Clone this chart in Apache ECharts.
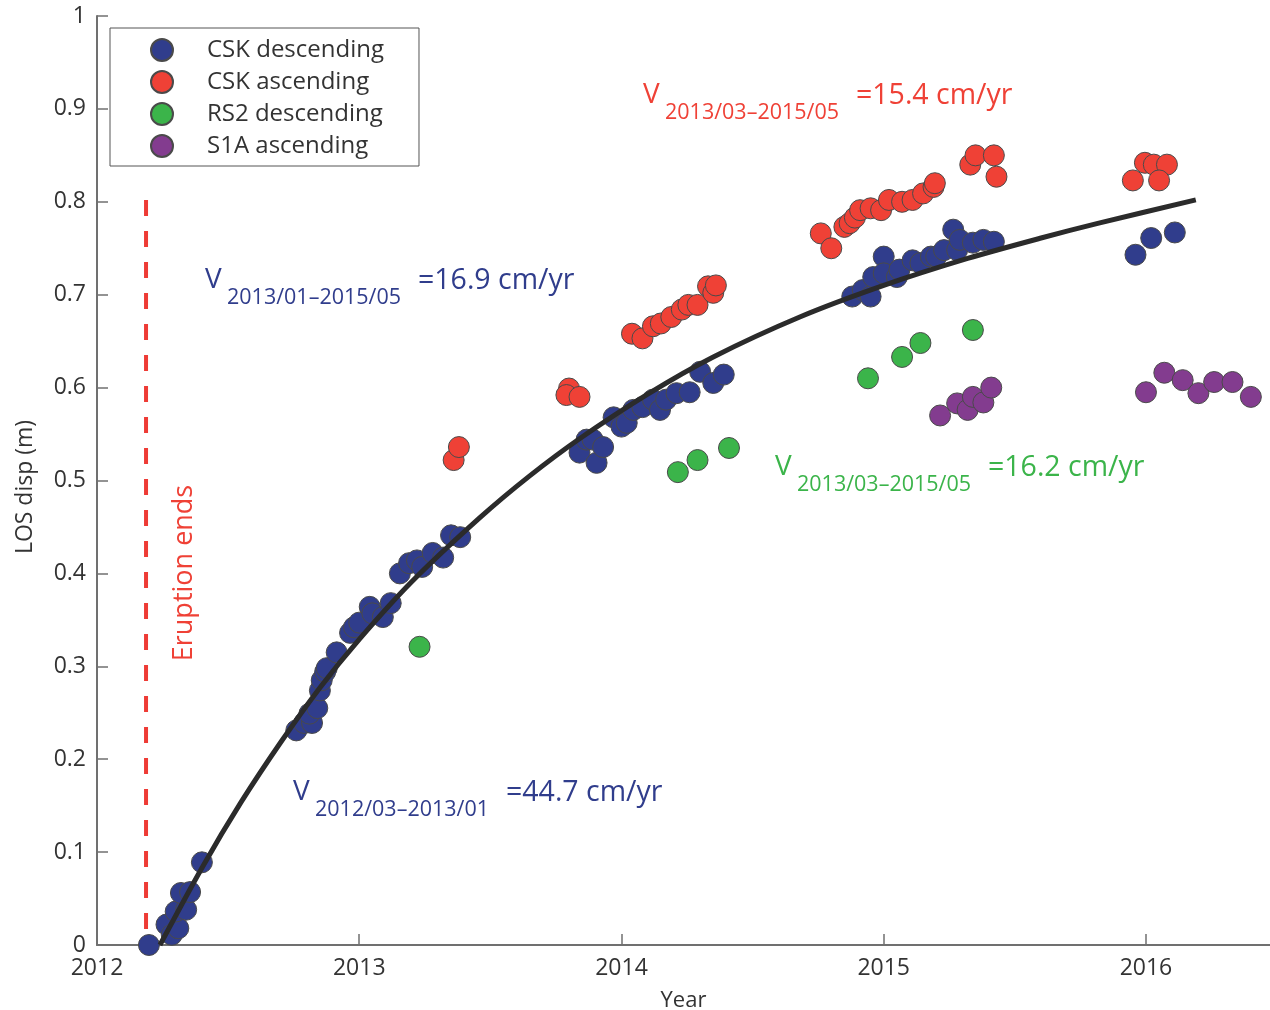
<!DOCTYPE html>
<html>
<head>
<meta charset="utf-8">
<title>LOS displacement</title>
<script src="https://cdn.jsdelivr.net/npm/echarts@6/dist/echarts.min.js"></script>
<style>
  html, body { margin: 0; padding: 0; background: #fff; }
  #chart { width: 1270px; height: 1010px; }
</style>
</head>
<body>
<div id="chart"></div>
<script>
// values: [decimal year, LOS displacement (m)]
const cskDescending = [
  [2012.198, 0.000], [2012.265, 0.022], [2012.285, 0.011], [2012.310, 0.018],
  [2012.300, 0.036], [2012.340, 0.038], [2012.320, 0.056], [2012.355, 0.057],
  [2012.400, 0.089],
  [2012.760, 0.231], [2012.790, 0.239], [2012.820, 0.239], [2012.810, 0.249],
  [2012.840, 0.255], [2012.850, 0.274], [2012.857, 0.285], [2012.870, 0.294],
  [2012.876, 0.298], [2012.914, 0.315], [2012.965, 0.336], [2012.980, 0.342],
  [2013.000, 0.347], [2013.040, 0.364], [2013.050, 0.357], [2013.090, 0.353],
  [2013.120, 0.368], [2013.155, 0.400], [2013.190, 0.411], [2013.220, 0.414],
  [2013.240, 0.407], [2013.280, 0.422], [2013.320, 0.417], [2013.350, 0.441],
  [2013.385, 0.439],
  [2013.840, 0.530], [2013.867, 0.544], [2013.890, 0.544], [2013.905, 0.519],
  [2013.930, 0.536], [2013.970, 0.568], [2014.000, 0.558], [2014.020, 0.562],
  [2014.045, 0.576], [2014.080, 0.579], [2014.120, 0.587], [2014.147, 0.576],
  [2014.170, 0.587], [2014.210, 0.594], [2014.260, 0.595], [2014.300, 0.617],
  [2014.350, 0.605], [2014.390, 0.614],
  [2014.880, 0.698], [2014.920, 0.705], [2014.950, 0.698], [2014.960, 0.719],
  [2015.000, 0.741], [2015.000, 0.723], [2015.050, 0.719], [2015.060, 0.727],
  [2015.110, 0.737], [2015.140, 0.734], [2015.180, 0.741], [2015.200, 0.741],
  [2015.230, 0.748], [2015.265, 0.770], [2015.280, 0.748], [2015.290, 0.759],
  [2015.340, 0.756], [2015.380, 0.759], [2015.420, 0.757],
  [2015.960, 0.743], [2016.020, 0.761], [2016.110, 0.767]
]
const cskAscending = [
  [2013.360, 0.522], [2013.380, 0.536],
  [2013.800, 0.599], [2013.790, 0.592], [2013.840, 0.590],
  [2014.040, 0.658], [2014.080, 0.653], [2014.120, 0.666], [2014.150, 0.669],
  [2014.190, 0.676], [2014.230, 0.684], [2014.255, 0.689], [2014.290, 0.689],
  [2014.330, 0.709], [2014.350, 0.702], [2014.360, 0.710],
  [2014.760, 0.766], [2014.800, 0.750], [2014.850, 0.773], [2014.870, 0.777],
  [2014.890, 0.783], [2014.910, 0.791], [2014.950, 0.793], [2014.990, 0.791],
  [2015.020, 0.802], [2015.070, 0.800], [2015.110, 0.802], [2015.150, 0.809],
  [2015.190, 0.816], [2015.195, 0.820],
  [2015.330, 0.840], [2015.350, 0.850], [2015.420, 0.850], [2015.430, 0.827],
  [2015.950, 0.823], [2015.996, 0.842], [2016.030, 0.840], [2016.080, 0.840],
  [2016.050, 0.823]
]
const rs2Descending = [
  [2013.230, 0.321], [2014.215, 0.509], [2014.290, 0.522], [2014.410, 0.535],
  [2014.940, 0.610], [2015.070, 0.633], [2015.140, 0.648], [2015.340, 0.662]
]
const s1aAscending = [
  [2015.215, 0.570], [2015.280, 0.583], [2015.320, 0.576], [2015.340, 0.590],
  [2015.380, 0.584], [2015.410, 0.600],
  [2016.000, 0.595], [2016.070, 0.616], [2016.140, 0.608], [2016.200, 0.594],
  [2016.260, 0.606], [2016.330, 0.606], [2016.400, 0.590]
]
// model curve
const fitCurve = [
  [2012.24, 0.000], [2012.40, 0.083], [2012.55, 0.154], [2012.70, 0.218],
  [2012.85, 0.277], [2013.00, 0.329], [2013.20, 0.391], [2013.46, 0.460],
  [2013.65, 0.505], [2013.84, 0.545], [2014.10, 0.593], [2014.35, 0.633],
  [2014.68, 0.676], [2015.00, 0.710], [2015.32, 0.739], [2015.60, 0.761],
  [2015.82, 0.777], [2016.19, 0.802]
]
// drawn from the top down so the dash pattern starts at 0.8
const eruptionLine = [[2012.187, 0.802], [2012.187, 0]]
const yearTicks = [2012, 2013, 2014, 2015, 2016]
const seriesNames = ['CSK descending', 'CSK ascending', 'RS2 descending', 'S1A ascending']

const FONT = '"Open Sans", "Noto Sans", sans-serif'
const TEXT_GRAY = '#333'
const AXIS_GRAY = '#707070'
const BLUE = '#303d8c'
const RED = '#ef4136'
const GREEN = '#3bb44a'
const PURPLE = '#833c8f'

const chart = echarts.init(document.getElementById('chart'), null, { renderer: 'canvas' })

function scatter(name, data, color) {
  return {
    name: name,
    type: 'scatter',
    data: data,
    symbol: 'circle',
    symbolSize: 21,
    itemStyle: { color: color, borderColor: '#4a4a4a', borderWidth: 1, opacity: 1 },
    z: 2,
  }
}

// velocity annotation: big "V", subscript period, then the value
function velocityLabel(x, y, period, value, color) {
  return [
    { type: 'text', x: x, y: y, style: { text: 'V', font: '28px ' + FONT, fill: color, verticalAlign: 'middle' } },
    { type: 'text', x: x + 22, y: y + 18, style: { text: period, font: '21.5px ' + FONT, fill: color, verticalAlign: 'middle' } },
    { type: 'text', x: x + 213, y: y + 1, style: { text: value, font: '28.5px ' + FONT, fill: color, verticalAlign: 'middle' } },
  ]
}

const option = {
  animation: false,
  backgroundColor: '#fff',
  // keep the plot box fixed, do not let v6 shrink it to fit the labels
  grid: { left: 97, right: 0, top: 16, bottom: 65, containLabel: false, outerBoundsMode: 'none' },
  xAxis: {
    type: 'value',
    min: 2012,
    max: 2016.473,
    name: 'Year',
    nameLocation: 'middle',
    nameGap: 45,
    nameTextStyle: { fontFamily: FONT, fontSize: 22, color: TEXT_GRAY },
    axisLine: { lineStyle: { color: AXIS_GRAY, width: 2 } },
    axisTick: { inside: true, length: 11, customValues: yearTicks, lineStyle: { color: AXIS_GRAY, width: 1.5 } },
    axisLabel: { customValues: yearTicks, margin: 12, fontFamily: FONT, fontSize: 23, color: TEXT_GRAY, formatter: (v) => String(v) },
    splitLine: { show: false },
  },
  yAxis: {
    type: 'value',
    min: 0,
    max: 1,
    interval: 0.1,
    name: 'LOS disp (m)',
    nameLocation: 'middle',
    nameGap: 60,
    nameTextStyle: { fontFamily: FONT, fontSize: 23, color: TEXT_GRAY, padding: [0, 13, 0, 0] },
    axisLine: { show: true, lineStyle: { color: AXIS_GRAY, width: 2 } },
    axisTick: { show: true, inside: true, length: 11, lineStyle: { color: AXIS_GRAY, width: 1.5 } },
    axisLabel: { margin: 11, fontFamily: FONT, fontSize: 23, color: TEXT_GRAY },
    splitLine: { show: false },
  },
  legend: {
    data: seriesNames,
    orient: 'vertical',
    left: 110,
    top: 28,
    padding: [10, 35, 8, 40],
    itemWidth: 80,
    itemHeight: 22,
    itemGap: 8,
    borderColor: '#555',
    borderWidth: 1,
    textStyle: { fontFamily: FONT, fontSize: 24, color: TEXT_GRAY, lineHeight: 22 },
  },
  series: [
    scatter(seriesNames[0], cskDescending, BLUE),
    scatter(seriesNames[1], cskAscending, RED),
    scatter(seriesNames[2], rs2Descending, GREEN),
    scatter(seriesNames[3], s1aAscending, PURPLE),
    {
      name: 'fit',
      type: 'line',
      data: fitCurve,
      smooth: 0.3,
      symbol: 'none',
      lineStyle: { color: '#2b2b2b', width: 5 },
      z: 5,
    },
    {
      name: 'eruption',
      type: 'line',
      data: eruptionLine,
      symbol: 'none',
      lineStyle: { color: '#ee3b35', width: 4, type: [16, 15] },
      z: 1,
    },
  ],
  graphic: [
    {
      type: 'text',
      x: 184,
      y: 573,
      rotation: Math.PI / 2,
      style: { text: 'Eruption ends', font: '27px ' + FONT, fill: RED, align: 'center', verticalAlign: 'middle' },
    },
    ...velocityLabel(643, 95, '2013/03\u20132015/05', '=15.4 cm/yr', RED),
    ...velocityLabel(205, 280, '2013/01\u20132015/05', '=16.9 cm/yr', BLUE),
    ...velocityLabel(775, 467, '2013/03\u20132015/05', '=16.2 cm/yr', GREEN),
    ...velocityLabel(293, 792, '2012/03\u20132013/01', '=44.7 cm/yr', BLUE),
  ],
}

chart.setOption(option)
</script>
</body>
</html>
